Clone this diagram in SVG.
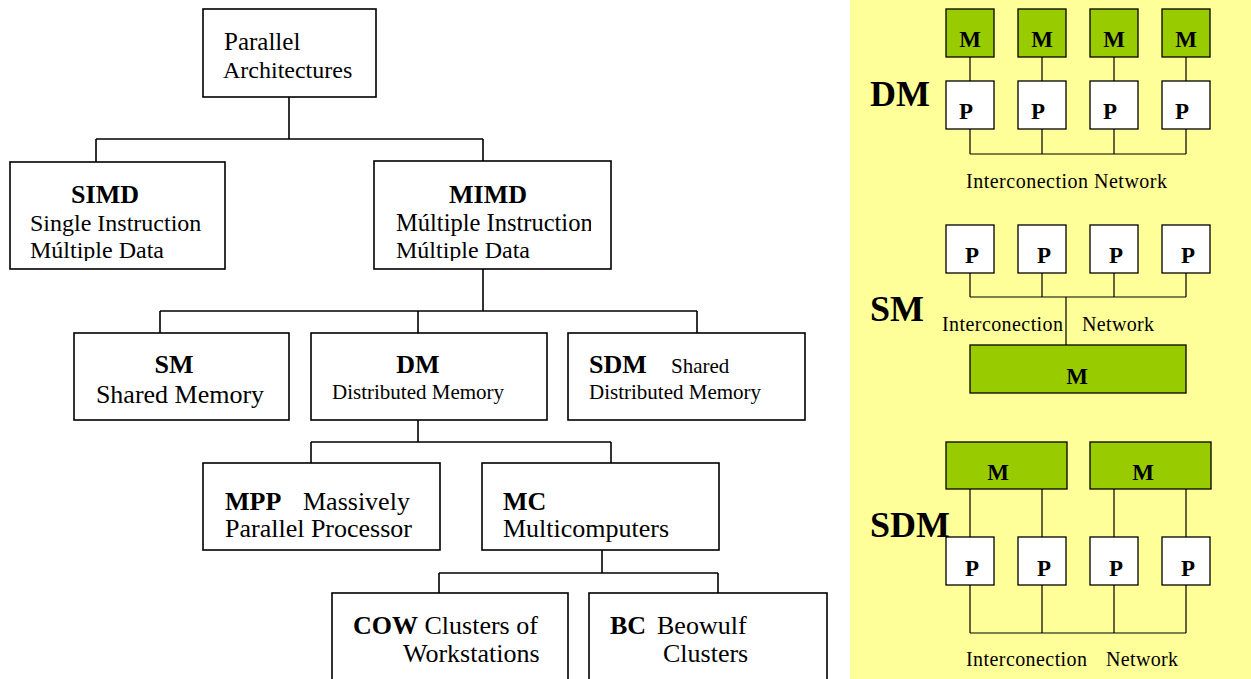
<svg xmlns="http://www.w3.org/2000/svg" width="1251" height="679" viewBox="0 0 1251 679">
<style>
text{font-family:"Liberation Serif","Times New Roman",serif;fill:#000}
.b{font-weight:bold}
.box{fill:#fff;stroke:#000;stroke-width:1.6}
.conn{fill:none;stroke:#000;stroke-width:1.6}
.rconn{fill:none;stroke:#000;stroke-width:1.2}
.mbox{fill:#99CC00;stroke:#000;stroke-width:1.3}
.pbox{fill:#fff;stroke:#000;stroke-width:1.3}
.t26{font-size:26px}
.t24{font-size:24px}
.t21{font-size:21px}
.rl{font-size:23px;font-weight:bold}
.big{font-size:36px;font-weight:bold}
.net{font-size:20px}
</style>
<defs>
<clipPath id="clipSimd"><rect x="10" y="162" width="215" height="99"/></clipPath>
<clipPath id="clipMimd"><rect x="374" y="161" width="217" height="100"/></clipPath>
</defs>
<rect x="0" y="0" width="1251" height="679" fill="#fff"/>
<rect x="850" y="0" width="401" height="679" fill="#FFFF99"/>

<g id="connectors">
<path class="conn" d="M289,97 V139 M96,139 H483 M96,139 V162 M483,139 V161"/>
<path class="conn" d="M483,269 V311 M160,311 H697 M160,311 V333 M418,311 V333 M697,311 V333"/>
<path class="conn" d="M418,420 V442 M311,442 H611 M311,442 V463 M611,442 V463"/>
<path class="conn" d="M602,550 V573 M439,573 H718 M439,573 V593 M718,573 V593"/>
</g>

<g id="n-parallel">
<rect class="box" x="203" y="9" width="173" height="88"/>
<text x="224" y="50" style="font-size:25px">Parallel</text>
<text x="223" y="78" class="t24">Architectures</text>
</g>
<g id="n-simd">
<rect class="box" x="10" y="162" width="215" height="107"/>
<g clip-path="url(#clipSimd)">
<text x="105" y="203" class="t26 b" text-anchor="middle">SIMD</text>
<text x="30" y="231" class="t24">Single Instruction</text>
<text x="30" y="258" class="t24">Múltiple Data</text>
</g>
</g>
<g id="n-mimd">
<rect class="box" x="374" y="161" width="237" height="108"/>
<g clip-path="url(#clipMimd)">
<text x="488" y="203" class="t26 b" text-anchor="middle">MIMD</text>
<text x="396" y="231" style="font-size:24.5px">Múltiple Instruction</text>
<text x="396" y="258" class="t24">Múltiple Data</text>
</g>
</g>
<g id="n-sm">
<rect class="box" x="74" y="333" width="215" height="87"/>
<text x="174" y="373" class="t26 b" text-anchor="middle">SM</text>
<text x="180" y="403" class="t26" text-anchor="middle">Shared Memory</text>
</g>
<g id="n-dm">
<rect class="box" x="311" y="333" width="236" height="87"/>
<text x="418" y="373" class="t26 b" text-anchor="middle">DM</text>
<text x="332" y="399" class="t21">Distributed Memory</text>
</g>
<g id="n-sdm">
<rect class="box" x="568" y="333" width="237" height="87"/>
<text x="589" y="373" class="t26 b">SDM</text>
<text x="671" y="373" class="t21">Shared</text>
<text x="589" y="399" class="t21">Distributed Memory</text>
</g>
<g id="n-mpp">
<rect class="box" x="203" y="463" width="237" height="87"/>
<text x="225" y="510" class="t26"><tspan class="b">MPP</tspan><tspan x="303">Massively</tspan></text>
<text x="225" y="537" class="t26">Parallel Processor</text>
</g>
<g id="n-mc">
<rect class="box" x="482" y="463" width="237" height="87"/>
<text x="503" y="510" class="t26 b">MC</text>
<text x="503" y="537" class="t26">Multicomputers</text>
</g>
<g id="n-cow">
<rect class="box" x="332" y="593" width="236" height="100"/>
<text x="353" y="634" class="t26"><tspan class="b">COW</tspan> Clusters of</text>
<text x="403" y="662" class="t26">Workstations</text>
</g>
<g id="n-bc">
<rect class="box" x="589" y="593" width="238" height="100"/>
<text x="610" y="634" class="t26"><tspan class="b">BC</tspan><tspan x="657">Beowulf</tspan></text>
<text x="663" y="662" class="t26">Clusters</text>
</g>

<g id="panel-dm">
<path class="rconn" d="M970,57 V81 M1042,57 V81 M1114,57 V81 M1186,57 V81 M970,129 V154 M1042,129 V154 M1114,129 V154 M1186,129 V154 M970,154 H1186"/>
<rect class="mbox" x="946" y="9" width="48" height="48"/>
<rect class="mbox" x="1018" y="9" width="48" height="48"/>
<rect class="mbox" x="1090" y="9" width="48" height="48"/>
<rect class="mbox" x="1162" y="9" width="48" height="48"/>
<text class="rl" x="970" y="47" text-anchor="middle">M</text>
<text class="rl" x="1042" y="47" text-anchor="middle">M</text>
<text class="rl" x="1114" y="47" text-anchor="middle">M</text>
<text class="rl" x="1186" y="47" text-anchor="middle">M</text>
<rect class="pbox" x="946" y="81" width="48" height="48"/>
<rect class="pbox" x="1018" y="81" width="48" height="48"/>
<rect class="pbox" x="1090" y="81" width="48" height="48"/>
<rect class="pbox" x="1162" y="81" width="48" height="48"/>
<text class="rl" x="966" y="119" text-anchor="middle">P</text>
<text class="rl" x="1038" y="119" text-anchor="middle">P</text>
<text class="rl" x="1110" y="119" text-anchor="middle">P</text>
<text class="rl" x="1182" y="119" text-anchor="middle">P</text>
<text class="big" x="870" y="106">DM</text>
<text class="net" x="966" y="188" textLength="201" lengthAdjust="spacing">Interconection Network</text>
</g>

<g id="panel-sm">
<path class="rconn" d="M970,273 V297 M1042,273 V297 M1114,273 V297 M1186,273 V297 M970,297 H1186 M1066,297 V345"/>
<rect class="pbox" x="946" y="225" width="48" height="48"/>
<rect class="pbox" x="1018" y="225" width="48" height="48"/>
<rect class="pbox" x="1090" y="225" width="48" height="48"/>
<rect class="pbox" x="1162" y="225" width="48" height="48"/>
<text class="rl" x="972" y="263" text-anchor="middle">P</text>
<text class="rl" x="1044" y="263" text-anchor="middle">P</text>
<text class="rl" x="1116" y="263" text-anchor="middle">P</text>
<text class="rl" x="1188" y="263" text-anchor="middle">P</text>
<rect class="mbox" x="970" y="345" width="216" height="48"/>
<text class="rl" x="1077" y="384" text-anchor="middle">M</text>
<text class="big" x="870" y="321">SM</text>
<text class="net" x="942" y="331" textLength="121" lengthAdjust="spacing">Interconection</text>
<text class="net" x="1082" y="331" textLength="72" lengthAdjust="spacing">Network</text>
</g>

<g id="panel-sdm">
<path class="rconn" d="M970,489 V537 M1042,489 V537 M1114,489 V537 M1186,489 V537 M970,585 V633 M1042,585 V633 M1114,585 V633 M1186,585 V633 M970,633 H1186"/>
<rect class="mbox" x="946" y="442" width="121" height="47"/>
<rect class="mbox" x="1090" y="442" width="121" height="47"/>
<text class="rl" x="998" y="480" text-anchor="middle">M</text>
<text class="rl" x="1143" y="480" text-anchor="middle">M</text>
<rect class="pbox" x="946" y="537" width="48" height="48"/>
<rect class="pbox" x="1018" y="537" width="48" height="48"/>
<rect class="pbox" x="1090" y="537" width="48" height="48"/>
<rect class="pbox" x="1162" y="537" width="48" height="48"/>
<text class="rl" x="972" y="576" text-anchor="middle">P</text>
<text class="rl" x="1044" y="576" text-anchor="middle">P</text>
<text class="rl" x="1116" y="576" text-anchor="middle">P</text>
<text class="rl" x="1188" y="576" text-anchor="middle">P</text>
<text class="big" x="870" y="537">SDM</text>
<text class="net" x="966" y="666" textLength="121" lengthAdjust="spacing">Interconection</text>
<text class="net" x="1106" y="666" textLength="72" lengthAdjust="spacing">Network</text>
</g>
</svg>
